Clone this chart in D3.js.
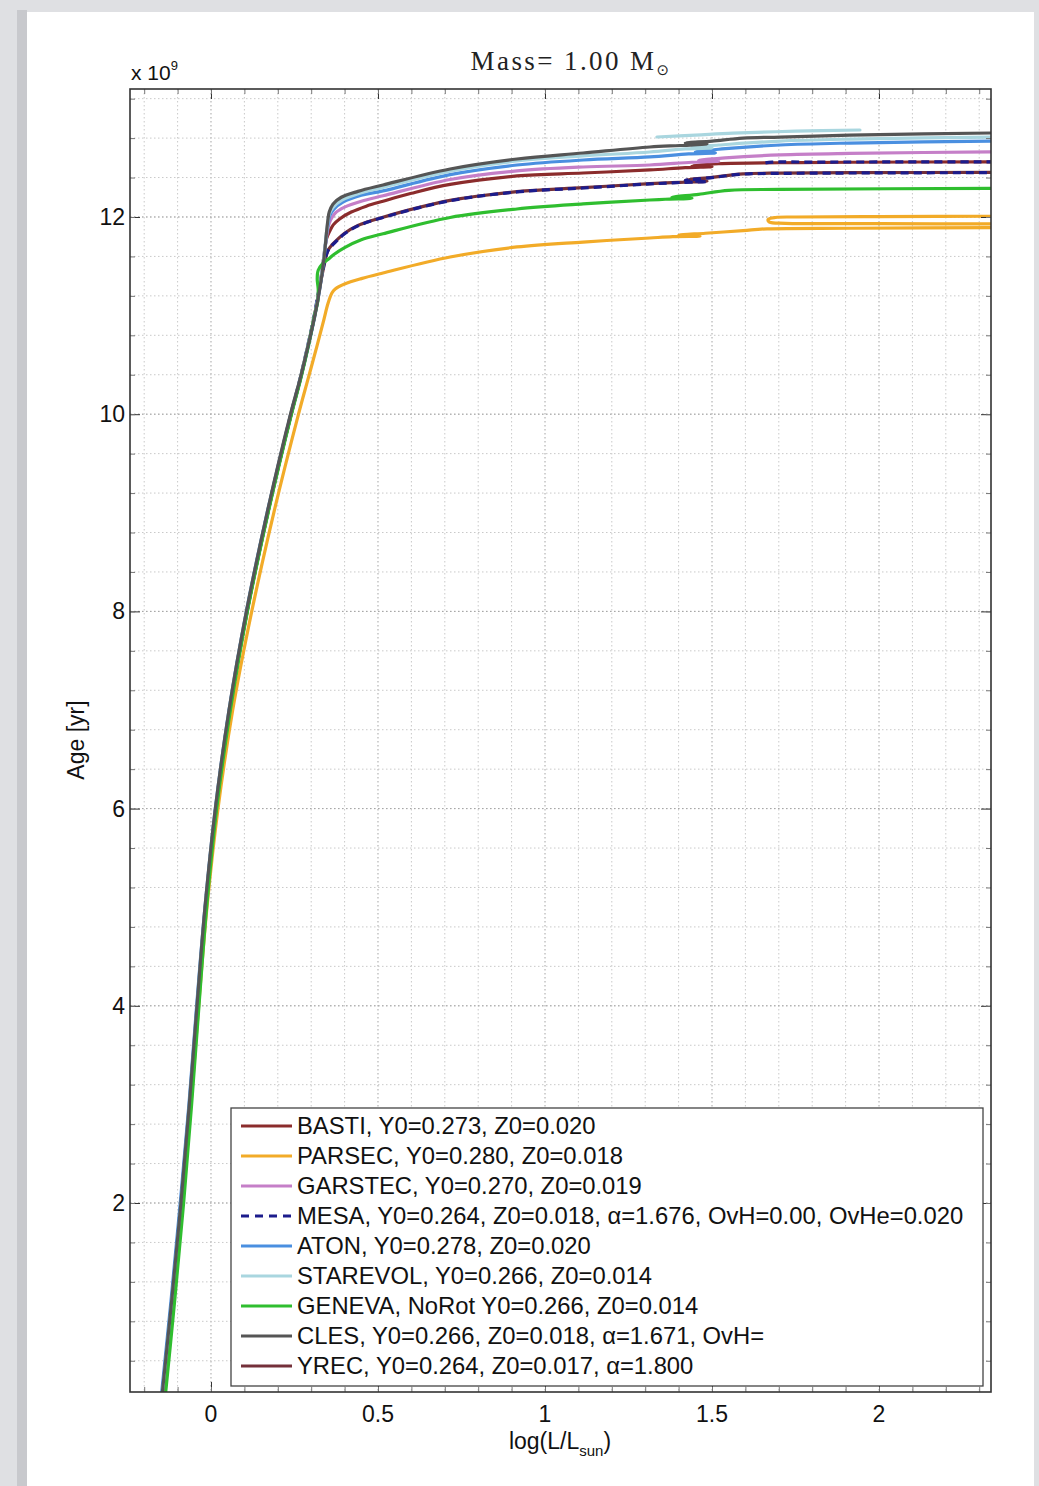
<!DOCTYPE html>
<html>
<head>
<meta charset="utf-8">
<script src="https://cdn.jsdelivr.net/npm/d3@7"></script>
<style>
  html, body { margin: 0; padding: 0; background: #dfe0e3; }
  svg { display: block; }
</style>
</head>
<body>
<svg id="chart" width="1039" height="1486"></svg>
<script>
// ---- Tracks: each is a list of segments, each segment a list of [log(L/Lsun), age (Gyr)] ----
const bastiTrack = [[
  [-0.146,0],[-0.116,1],[-0.088,2],[-0.063,3],[-0.040,4],[-0.016,5],[0.015,6],[0.056,7],[0.108,8],
  [0.170,9],[0.240,10],[0.267,10.35],[0.291,10.7],[0.310,11],[0.326,11.3],[0.338,11.6],[0.346,11.78],
  [0.356,11.86],[0.366,11.92],[0.385,11.98],[0.42,12.05],[0.465,12.11],[0.515,12.16],[0.60,12.24],
  [0.716,12.33],[0.916,12.416],[1.114,12.446],[1.314,12.477],[1.42,12.50],[1.50,12.51],[1.44,12.52],
  [1.52,12.54],[1.704,12.55],[1.913,12.555],[2.40,12.56]
]];

const parsecTrack = [[
  [-0.145,0],[-0.114,1],[-0.086,2],[-0.060,3],[-0.037,4],[-0.012,5],[0.021,6],[0.065,7],[0.122,8],
  [0.188,9],[0.262,10],[0.290,10.35],[0.318,10.7],[0.338,10.96],[0.350,11.12],[0.362,11.229],
  [0.372,11.27],[0.40,11.32],[0.45,11.375],[0.515,11.432],[0.716,11.594],[0.916,11.696],
  [1.114,11.746],[1.314,11.787],[1.383,11.80],[1.464,11.805],[1.40,11.815],[1.48,11.835],
  [1.593,11.862],[1.665,11.88],[1.913,11.886],[2.40,11.892]
], [
  [2.40,11.930],[2.0,11.932],[1.72,11.936],[1.672,11.948],[1.668,11.975],[1.69,11.995],
  [1.75,12.0],[2.0,12.004],[2.40,12.008]
]];

const garstecTrack = [[
  [-0.146,0],[-0.116,1],[-0.088,2],[-0.063,3],[-0.040,4],[-0.016,5],[0.015,6],[0.056,7],[0.108,8],
  [0.170,9],[0.240,10],[0.267,10.35],[0.291,10.7],[0.310,11],[0.326,11.3],[0.338,11.6],[0.346,11.80],
  [0.351,11.90],[0.358,11.97],[0.372,12.04],[0.40,12.10],[0.45,12.16],[0.515,12.215],[0.716,12.38],
  [0.916,12.467],[1.114,12.507],[1.314,12.527],[1.44,12.555],[1.52,12.565],[1.46,12.575],[1.54,12.60],
  [1.704,12.63],[1.913,12.645],[2.40,12.662]
]];

const mesaTrack = [[
  [-0.147,0],[-0.117,1],[-0.089,2],[-0.064,3],[-0.041,4],[-0.017,5],[0.014,6],[0.055,7],[0.107,8],
  [0.169,9],[0.239,10],[0.266,10.35],[0.290,10.7],[0.309,11],[0.325,11.3],[0.337,11.5],[0.349,11.65],
  [0.362,11.71],[0.377,11.76],[0.40,11.83],[0.44,11.91],[0.515,11.995],[0.716,12.165],[0.916,12.254],
  [1.114,12.294],[1.314,12.335],[1.404,12.35],[1.485,12.36],[1.42,12.37],[1.50,12.40],[1.593,12.435],
  [1.704,12.442],[1.913,12.446],[2.40,12.45]
], [
  [1.66,12.548],[1.68,12.556],[1.80,12.557],[2.0,12.558],[2.40,12.56]
]];

const atonTrack = [[
  [-0.150,0],[-0.120,1],[-0.092,2],[-0.066,3],[-0.043,4],[-0.018,5],[0.013,6],[0.054,7],[0.106,8],
  [0.168,9],[0.239,10],[0.267,10.35],[0.292,10.7],[0.311,11],[0.327,11.3],[0.339,11.6],[0.347,11.85],
  [0.351,11.93],[0.355,12.01],[0.368,12.08],[0.395,12.15],[0.45,12.22],[0.515,12.265],[0.716,12.43],
  [0.916,12.527],[1.114,12.578],[1.314,12.609],[1.43,12.64],[1.51,12.65],[1.45,12.66],[1.53,12.69],
  [1.704,12.73],[1.913,12.75],[2.40,12.773]
]];

const starevolTrack = [[
  [-0.147,0],[-0.117,1],[-0.089,2],[-0.064,3],[-0.041,4],[-0.017,5],[0.014,6],[0.055,7],[0.107,8],
  [0.169,9],[0.239,10],[0.266,10.35],[0.290,10.7],[0.310,11],[0.326,11.3],[0.338,11.6],[0.346,11.85],
  [0.350,11.95],[0.354,12.03],[0.366,12.10],[0.392,12.17],[0.445,12.24],[0.515,12.30],[0.716,12.465],
  [0.916,12.568],[1.114,12.619],[1.314,12.659],[1.42,12.69],[1.50,12.70],[1.44,12.71],[1.52,12.73],
  [1.704,12.77],[1.913,12.79],[2.40,12.813]
], [
  [1.335,12.811],[1.45,12.83],[1.563,12.85],[1.75,12.87],[1.943,12.882]
]];

const genevaTrack = [[
  [-0.138,0],[-0.109,1],[-0.082,2],[-0.058,3],[-0.036,4],[-0.013,5],[0.017,6],[0.058,7],[0.109,8],
  [0.171,9],[0.241,10],[0.268,10.35],[0.292,10.7],[0.310,11.0],[0.320,11.15],[0.321,11.27],
  [0.318,11.37],[0.321,11.46],[0.335,11.53],[0.354,11.58],[0.368,11.62],[0.40,11.69],[0.45,11.77],
  [0.515,11.83],[0.716,11.995],[0.916,12.081],[1.114,12.132],[1.314,12.172],[1.36,12.18],[1.44,12.19],
  [1.38,12.20],[1.46,12.23],[1.55,12.27],[1.704,12.28],[2.40,12.29]
]];

const clesTrack = [[
  [-0.148,0],[-0.118,1],[-0.090,2],[-0.065,3],[-0.042,4],[-0.018,5],[0.013,6],[0.054,7],[0.106,8],
  [0.168,9],[0.238,10],[0.266,10.35],[0.291,10.7],[0.311,11],[0.327,11.3],[0.339,11.6],[0.346,11.85],
  [0.350,11.97],[0.354,12.05],[0.365,12.13],[0.39,12.20],[0.44,12.26],[0.515,12.325],[0.716,12.487],
  [0.916,12.588],[1.114,12.649],[1.314,12.71],[1.404,12.725],[1.485,12.74],[1.42,12.75],[1.50,12.77],
  [1.593,12.80],[1.704,12.81],[1.913,12.83],[2.40,12.855]
]];

const yrecTrack = [[
  [-0.146,0],[-0.116,1],[-0.088,2],[-0.063,3],[-0.040,4],[-0.016,5],[0.015,6],[0.056,7],[0.108,8],
  [0.170,9],[0.240,10],[0.267,10.35],[0.291,10.7],[0.310,11],[0.326,11.3],[0.338,11.5],[0.350,11.66],
  [0.363,11.72],[0.378,11.77],[0.40,11.835],[0.44,11.915],[0.515,11.998],[0.716,12.168],[0.916,12.257],
  [1.114,12.297],[1.314,12.338],[1.404,12.352],[1.485,12.362],[1.42,12.372],[1.50,12.402],[1.593,12.437],
  [1.704,12.445],[1.913,12.449],[2.40,12.453]
]];

// ---- Legend labels, colours and styles, in legend order ----
const seriesLabels = [
  "BASTI, Y0=0.273, Z0=0.020",
  "PARSEC, Y0=0.280, Z0=0.018",
  "GARSTEC, Y0=0.270, Z0=0.019",
  "MESA, Y0=0.264, Z0=0.018, \u03b1=1.676, OvH=0.00, OvHe=0.020",
  "ATON, Y0=0.278, Z0=0.020",
  "STAREVOL, Y0=0.266, Z0=0.014",
  "GENEVA, NoRot Y0=0.266, Z0=0.014",
  "CLES, Y0=0.266, Z0=0.018, \u03b1=1.671, OvH=",
  "YREC, Y0=0.264, Z0=0.017, \u03b1=1.800"
];
const seriesTracks = [bastiTrack, parsecTrack, garstecTrack, mesaTrack, atonTrack,
                      starevolTrack, genevaTrack, clesTrack, yrecTrack];
const seriesColors = ["#8b2c2c", "#f2ab28", "#c57fc8", "#1c1c8c", "#4a8fe0",
                      "#a9d6df", "#2fbe2f", "#555555", "#74303a"];
const seriesDashes = [null, null, null, "8,5", null, null, null, null, null];
// painting order (YREC sits beneath the dashed MESA curve)
const drawOrder = [0, 1, 2, 8, 3, 4, 5, 6, 7];

const xTickValues = [0, 0.5, 1, 1.5, 2];
const xTickLabels = ["0", "0.5", "1", "1.5", "2"];
const yTickValues = [2, 4, 6, 8, 10, 12];
const yTickLabels = ["2", "4", "6", "8", "10", "12"];

// ---- Layout ----
const W = 1039, H = 1486;
const plot = { left: 130, top: 89, right: 991, bottom: 1392 };
const xDomain = [-0.2425, 2.3353];
const yDomain = [0.0832, 13.298];

const svg = d3.select("#chart");
const FONT = "'Liberation Sans', Arial, Helvetica, sans-serif";

// page: grey surround with a white sheet
svg.append("rect").attr("x", 0).attr("y", 0).attr("width", W).attr("height", H).attr("fill", "#dfe0e3");
svg.append("rect").attr("x", 17).attr("y", 10).attr("width", 10).attr("height", H).attr("fill", "#c8c9cd");
svg.append("rect").attr("x", 27).attr("y", 12).attr("width", 1007).attr("height", H).attr("fill", "#ffffff");

const x = d3.scaleLinear().domain(xDomain).range([plot.left, plot.right]);
const y = d3.scaleLinear().domain(yDomain).range([plot.bottom, plot.top]);

const defs = svg.append("defs");
defs.append("clipPath").attr("id", "plotClip")
  .append("rect").attr("x", plot.left).attr("y", plot.top)
  .attr("width", plot.right - plot.left).attr("height", plot.bottom - plot.top);

// ---- Grid (dotted, major and minor) ----
const xMinor = d3.range(-0.2, 2.35, 0.1).map(v => +v.toFixed(2));
const yMinor = d3.range(0.4, 13.3, 0.4).map(v => +v.toFixed(2));
const isMajor = (vals, d) => vals.some(t => Math.abs(t - d) < 1e-6);
const grid = svg.append("g").attr("clip-path", "url(#plotClip)");
grid.selectAll(".vx").data(xMinor).enter().append("line")
  .attr("x1", d => x(d)).attr("x2", d => x(d)).attr("y1", plot.top).attr("y2", plot.bottom)
  .attr("stroke", d => isMajor(xTickValues, d) ? "#a4a4a4" : "#c9c9c9")
  .attr("stroke-width", 1).attr("stroke-dasharray", "1.5,2.5");
grid.selectAll(".hy").data(yMinor).enter().append("line")
  .attr("y1", d => y(d)).attr("y2", d => y(d)).attr("x1", plot.left).attr("x2", plot.right)
  .attr("stroke", "#c9c9c9")
  .attr("stroke-width", 1).attr("stroke-dasharray", "1.5,2.5");
grid.selectAll(".hyM").data(yTickValues).enter().append("line")
  .attr("y1", d => y(d)).attr("y2", d => y(d)).attr("x1", plot.left).attr("x2", plot.right)
  .attr("stroke", "#a4a4a4").attr("stroke-width", 1).attr("stroke-dasharray", "1.5,2.5");

// ---- Curves ----
const line = d3.line()
  .x(d => x(d[0])).y(d => y(d[1]))
  .curve(d3.curveCatmullRom.alpha(0.5));
const curves = svg.append("g").attr("clip-path", "url(#plotClip)");
drawOrder.forEach(i => {
  seriesTracks[i].forEach(seg => {
    curves.append("path")
      .attr("d", line(seg))
      .attr("fill", "none")
      .attr("stroke", seriesColors[i])
      .attr("stroke-width", 3.2)
      .attr("stroke-linejoin", "round")
      .attr("stroke-dasharray", seriesDashes[i])
      .attr("stroke-linecap", seriesDashes[i] ? "butt" : "round");
  });
});

// ---- Axes box and ticks (inward, on all four sides) ----
const axes = svg.append("g");
const xAxisB = d3.axisBottom(x).tickValues(xTickValues).tickSize(-10).tickFormat("");
const xAxisT = d3.axisTop(x).tickValues(xTickValues).tickSize(-10).tickFormat("");
const yAxisL = d3.axisLeft(y).tickValues(yTickValues).tickSize(-10).tickFormat("");
const yAxisR = d3.axisRight(y).tickValues(yTickValues).tickSize(-10).tickFormat("");
const xMinorB = d3.axisBottom(x).tickValues(xMinor).tickSize(-5).tickFormat("");
const xMinorT = d3.axisTop(x).tickValues(xMinor).tickSize(-5).tickFormat("");
const yMinorL = d3.axisLeft(y).tickValues(yMinor).tickSize(-5).tickFormat("");
const yMinorR = d3.axisRight(y).tickValues(yMinor).tickSize(-5).tickFormat("");
[[xAxisB, `translate(0,${plot.bottom})`], [xAxisT, `translate(0,${plot.top})`],
 [yAxisL, `translate(${plot.left},0)`], [yAxisR, `translate(${plot.right},0)`],
 [xMinorB, `translate(0,${plot.bottom})`], [xMinorT, `translate(0,${plot.top})`],
 [yMinorL, `translate(${plot.left},0)`], [yMinorR, `translate(${plot.right},0)`]]
.forEach(([ax, tr], k) => {
  const g = axes.append("g").attr("transform", tr).call(ax);
  g.select(".domain").remove();
  g.selectAll(".tick line").attr("stroke", k < 4 ? "#333" : "#777").attr("stroke-width", 1);
});
axes.append("rect")
  .attr("x", plot.left).attr("y", plot.top)
  .attr("width", plot.right - plot.left).attr("height", plot.bottom - plot.top)
  .attr("fill", "none").attr("stroke", "#333").attr("stroke-width", 1.6);

// tick labels
const labels = svg.append("g").attr("font-family", FONT).attr("fill", "#111");
labels.selectAll(".xl").data(xTickValues).enter().append("text")
  .attr("x", d => x(d)).attr("y", plot.bottom + 30)
  .attr("text-anchor", "middle").attr("font-size", 23)
  .text((d, i) => xTickLabels[i]);
labels.selectAll(".yl").data(yTickValues).enter().append("text")
  .attr("x", plot.left - 5).attr("y", d => y(d) + 8)
  .attr("text-anchor", "end").attr("font-size", 23)
  .text((d, i) => yTickLabels[i]);

// exponent marker
const expo = labels.append("text").attr("x", plot.left + 1).attr("y", 80).attr("font-size", 21);
expo.append("tspan").text("x 10");
expo.append("tspan").attr("font-size", 13).attr("dy", -10).text("9");

// axis titles
const xl = labels.append("text").attr("x", 560).attr("y", 1449)
  .attr("text-anchor", "middle").attr("font-size", 23);
xl.append("tspan").text("log(L/L");
xl.append("tspan").attr("font-size", 15).attr("dy", 7).text("sun");
xl.append("tspan").attr("dy", -7).text(")");

labels.append("text")
  .attr("transform", "translate(84,740) rotate(-90)")
  .attr("text-anchor", "middle").attr("font-size", 23)
  .text("Age [yr]");

// title
const title = svg.append("text").attr("x", 571).attr("y", 70)
  .attr("text-anchor", "middle")
  .attr("font-family", "'Liberation Serif', 'Times New Roman', serif")
  .attr("font-size", 27).attr("letter-spacing", 2.4).attr("fill", "#222");
title.append("tspan").text("Mass= 1.00 M");
title.append("tspan").attr("font-size", 15).attr("dy", 5)
  .attr("font-family", "'DejaVu Sans', sans-serif").text("\u2299");

// ---- Legend ----
const leg = { x: 231, y: 1108, w: 752, h: 278, row: 30, first: 18 };
const legend = svg.append("g").attr("font-family", FONT);
legend.append("rect").attr("x", leg.x).attr("y", leg.y).attr("width", leg.w).attr("height", leg.h)
  .attr("fill", "#fff").attr("stroke", "#444").attr("stroke-width", 1.3);
seriesLabels.forEach((lab, i) => {
  const cy = leg.y + leg.first + i * leg.row;
  legend.append("line")
    .attr("x1", leg.x + 10).attr("x2", leg.x + 61).attr("y1", cy).attr("y2", cy)
    .attr("stroke", seriesColors[i]).attr("stroke-width", 3)
    .attr("stroke-dasharray", seriesDashes[i] ? "8,6" : null);
  legend.append("text")
    .attr("x", leg.x + 66).attr("y", cy + 8)
    .attr("font-size", 23.8).attr("fill", "#111")
    .text(lab);
});
</script>
</body>
</html>
